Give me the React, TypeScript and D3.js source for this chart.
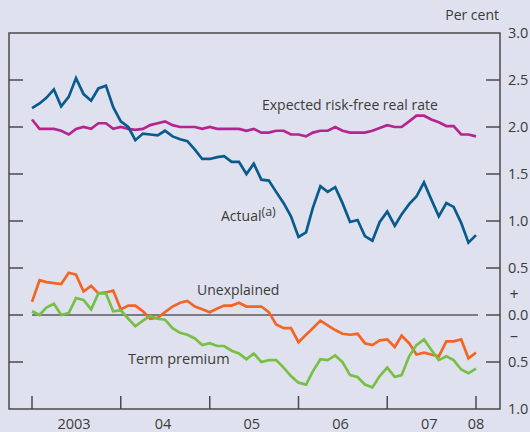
import * as d3 from "d3";

// monthly, Jan 2003 .. Jan 2008
const actual = [
  2.2, 2.25, 2.31, 2.4, 2.22, 2.32, 2.52, 2.35, 2.28, 2.41, 2.44, 2.21,
  2.06, 2.0, 1.86, 1.93, 1.92, 1.91, 1.96, 1.9, 1.87, 1.85, 1.76, 1.66,
  1.66, 1.68, 1.69, 1.63, 1.63, 1.5, 1.61, 1.44, 1.43, 1.31, 1.19, 1.05,
  0.83, 0.88, 1.14, 1.37, 1.31, 1.36, 1.19, 0.99, 1.01, 0.84, 0.79, 0.99,
  1.1, 0.95, 1.07, 1.18, 1.26, 1.41, 1.23, 1.05, 1.19, 1.15, 0.98, 0.77,
  0.85,
];
const expected = [
  2.08, 1.98, 1.98, 1.98, 1.96, 1.92, 1.98, 2.0, 1.98, 2.04, 2.04, 1.98,
  2.0, 1.98, 1.97, 1.98, 2.02, 2.04, 2.06, 2.02, 2.0, 2.0, 2.0, 1.98,
  2.0, 1.98, 1.98, 1.98, 1.98, 1.96, 1.98, 1.94, 1.94, 1.96, 1.96, 1.92,
  1.92, 1.9, 1.94, 1.96, 1.96, 2.0, 1.96, 1.94, 1.94, 1.94, 1.96, 1.99,
  2.02, 2.0, 2.0, 2.06, 2.12, 2.12, 2.08, 2.05, 2.01, 2.01, 1.92, 1.92,
  1.9,
];
const unexplained = [
  0.14, 0.37, 0.35, 0.34, 0.33, 0.45, 0.43, 0.25, 0.31, 0.23, 0.24, 0.26,
  0.06, 0.1, 0.1, 0.04, -0.04, -0.03, 0.03, 0.09, 0.13, 0.15, 0.09, 0.06,
  0.03, 0.07, 0.1, 0.1, 0.13, 0.09, 0.09, 0.09, 0.03, -0.1, -0.14, -0.14,
  -0.29, -0.21, -0.14, -0.06, -0.11, -0.16, -0.2, -0.21, -0.2, -0.3, -0.32, -0.27,
  -0.26, -0.34, -0.22, -0.3, -0.42, -0.4, -0.42, -0.44, -0.28, -0.28, -0.26, -0.46,
  -0.4,
];
const termPremium = [
  0.04, 0.0, 0.08, 0.12, 0.0, 0.02, 0.18, 0.16, 0.06, 0.23, 0.23, 0.04,
  0.05, -0.04, -0.12, -0.06, -0.01, -0.04, -0.05, -0.14, -0.19, -0.21, -0.25, -0.32,
  -0.3, -0.33, -0.33, -0.38, -0.41, -0.47, -0.41, -0.5, -0.48, -0.48, -0.56, -0.65,
  -0.72, -0.74, -0.6, -0.47, -0.48, -0.43, -0.5, -0.64, -0.66, -0.74, -0.77, -0.65,
  -0.56, -0.66, -0.64, -0.44, -0.32, -0.26, -0.37, -0.48, -0.44, -0.48, -0.58, -0.62,
  -0.57,
];

const yTicks = [3, 2.5, 2, 1.5, 1, 0.5, 0, -0.5, -1];
const yearLabels = ["2003", "04", "05", "06", "07", "08"];

const months = d3.timeMonth.range(new Date(2003, 0, 1), new Date(2008, 0, 2));

const series = [
  { name: "expected", values: expected, color: "#b5258f" },
  { name: "actual", values: actual, color: "#085b8c" },
  { name: "unexplained", values: unexplained, color: "#f26524" },
  { name: "term", values: termPremium, color: "#78bf45" },
];

const W = 530;
const H = 432;
const box = { left: 9, right: 500, top: 33, bottom: 409 };
const font = "'Open Sans', 'Noto Sans', sans-serif";
const ink = "#3a3a3a";

export default function App() {
  const x = d3
    .scaleTime()
    .domain([new Date(2003, 0, 1), new Date(2008, 0, 1)])
    .range([32, 476]);
  const y = d3.scaleLinear().domain([-1, 3]).range([box.bottom, box.top]);

  const line = d3
    .line<number>()
    .x((_, i) => x(months[i]))
    .y((d) => y(d));

  const yearStarts = d3.range(2003, 2009).map((yr) => new Date(yr, 0, 1));
  const fmt = d3.format(".1f");

  return (
    <svg
      width={W}
      height={H}
      style={{ position: "absolute", left: 0, top: 0, background: "#dfe2ee" }}
      fontFamily={font}
    >
      <rect x={0} y={0} width={W} height={H} fill="#dfe2ee" />
      {/* y ticks, both sides */}
      {yTicks
        .filter((t) => t < 3 && t > -1)
        .map((t) => (
          <g key={t} stroke="#4a4a4a" strokeWidth={1.5}>
            <line x1={box.left} x2={box.left + 14} y1={y(t)} y2={y(t)} />
            <line x1={box.right - 14} x2={box.right} y1={y(t)} y2={y(t)} />
          </g>
        ))}
      {yTicks.map((t) => (
        <text
          key={"l" + t}
          x={508}
          y={y(t)}
          dy="0.35em"
          fontSize={14.5}
          fill={ink}
        >
          {fmt(Math.abs(t))}
        </text>
      ))}
      <text x={514} y={y(0.22)} dy="0.35em" fontSize={16} fill={ink} textAnchor="middle">
        +
      </text>
      <text x={514} y={y(-0.22)} dy="0.35em" fontSize={16} fill={ink} textAnchor="middle">
        –
      </text>
      <text x={499} y={20} fontSize={14} fill={ink} textAnchor="end">
        Per cent
      </text>
      {/* x ticks */}
      {yearStarts.map((d) => (
        <line
          key={+d}
          x1={x(d)}
          x2={x(d)}
          y1={box.bottom - 13}
          y2={box.bottom}
          stroke="#4a4a4a"
          strokeWidth={1.5}
        />
      ))}
      {yearLabels.map((lab, i) => {
        const yr = 2003 + i;
        const cx = yr === 2008 ? x(new Date(2008, 0, 1)) : x(new Date(yr, 6, 1)) - 2;
        return (
          <text key={lab} x={cx} y={429} fontSize={14.5} fill={ink} textAnchor="middle">
            {lab}
          </text>
        );
      })}
      {/* zero line */}
      <line
        x1={x(months[0])}
        x2={x(months[months.length - 1]) + 2}
        y1={y(0)}
        y2={y(0)}
        stroke="#5a5a5e"
        strokeWidth={1.5}
      />
      {series.map((s) => (
        <path
          key={s.name}
          d={line(s.values) || ""}
          fill="none"
          stroke={s.color}
          strokeWidth={2.7}
          strokeLinejoin="miter"
        />
      ))}
      <rect
        x={box.left}
        y={box.top}
        width={box.right - box.left}
        height={box.bottom - box.top}
        fill="none"
        stroke="#4a4a4a"
        strokeWidth={1.5}
      />
      <text x={262} y={110} fontSize={14} fill={ink}>
        Expected risk-free real rate
      </text>
      <text x={221} y={221} fontSize={14} fill={ink}>
        Actual
        <tspan fontSize={12.5} dy={-5}>
          (a)
        </tspan>
      </text>
      <text x={197} y={295} fontSize={14} fill={ink}>
        Unexplained
      </text>
      <text x={128} y={364} fontSize={14.5} fill={ink}>
        Term premium
      </text>
    </svg>
  );
}
